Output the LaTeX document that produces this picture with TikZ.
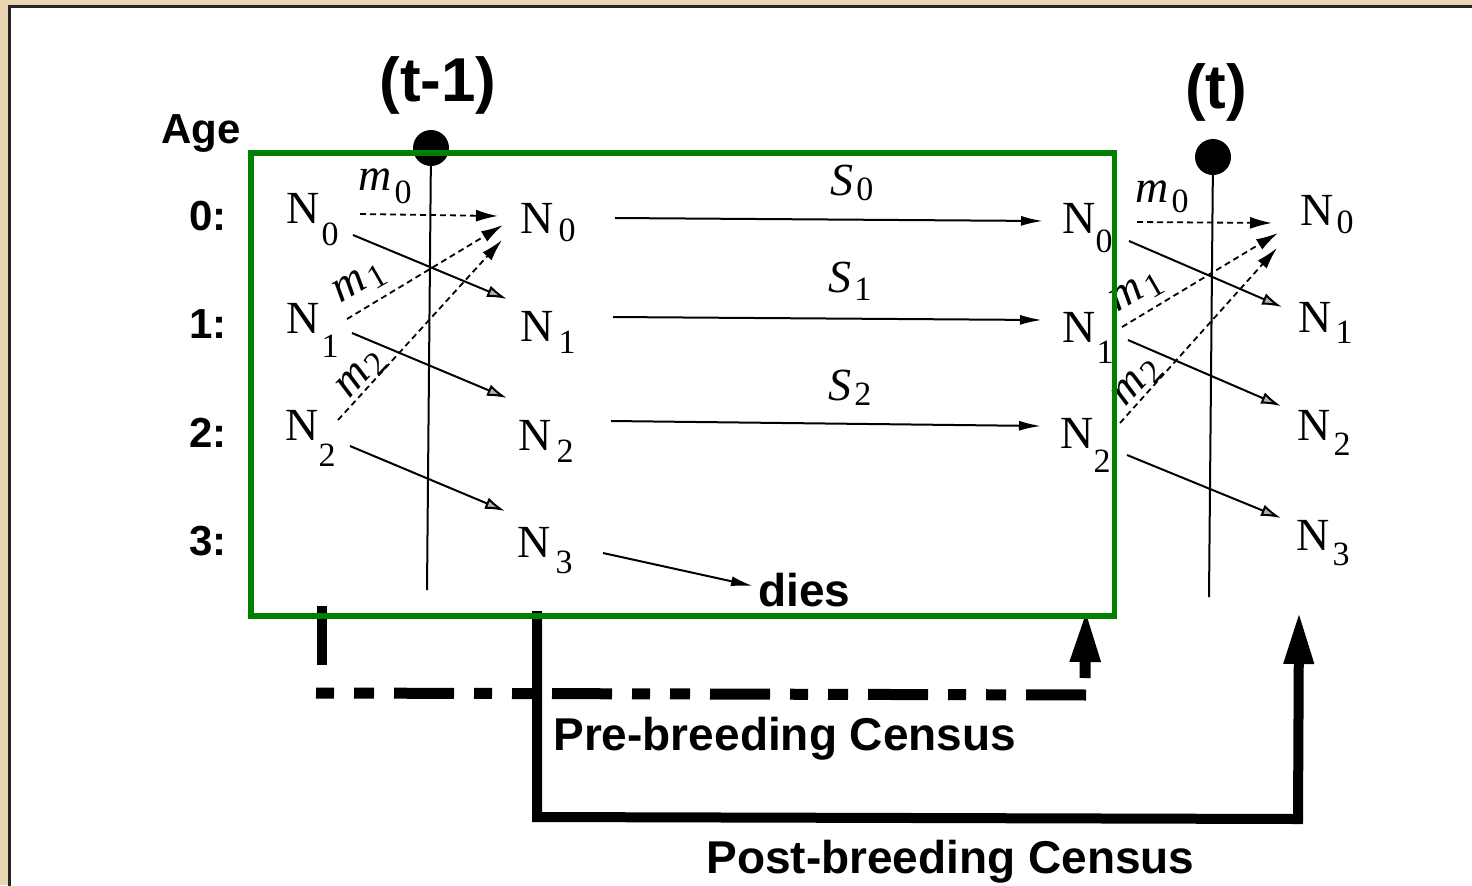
\documentclass[tikz,border=0pt]{standalone}
\usepackage{fontspec}
\setmainfont{Liberation Serif}
\newfontfamily\hvfont{Liberation Sans}
\usetikzlibrary{arrows.meta}

\definecolor{parch}{RGB}{232,214,176}
\definecolor{boxgreen}{RGB}{0,128,0}

% N with a lowered age index: #1 kern (pt), #2 drop (pt), #3 index
\newcommand{\popN}[3]{N\kern#1pt\raisebox{-#2pt}{\fontsize{17}{17}\selectfont #3}}
% italic rate symbol with lowered index: #1 letter, #2 drop (pt), #3 index
\newcommand{\rateSym}[3]{{\itshape #1}\kern1.5pt\raisebox{-#2pt}{\fontsize{17}{17}\selectfont #3}}

\begin{document}
\begin{tikzpicture}[x=0.5pt,y=-0.5pt,
  serif/.style={inner sep=0pt,font=\fontsize{23}{23}\selectfont},
  sanslab/.style={inner sep=0pt,font=\hvfont\bfseries\fontsize{23}{23}\selectfont},
  agelab/.style={inner sep=0pt,font=\hvfont\bfseries\fontsize{21}{21}\selectfont},
  timelab/.style={inner sep=0pt,font=\hvfont\bfseries\fontsize{31}{31}\selectfont},
  survive/.style={line width=1pt,-{Latex[length=11pt,width=5pt]}},
  fecund/.style={line width=0.9pt,dash pattern=on 3pt off 2pt,-{Latex[length=11pt,width=6pt]}},
  ageing/.style={line width=1pt,-{Latex[length=10pt,width=6pt,fill=gray!60]}},
  timeline/.style={line width=1pt},
  census/.style={line width=5pt,line join=miter},
  censustip/.style={-{Triangle[length=26pt,width=14pt]}}
]
\useasboundingbox (0,0) rectangle (1472,885);

% parchment surround and white panel
\fill[parch] (0,0) rectangle (1472,885);
\filldraw[fill=white,draw=black!85,line width=1.5pt] (9.5,6) rectangle (1490,900);

% time labels, census instants and time lines
\node[timelab] (tprev) at (438,85) {(t-1)};
\node[timelab] (tnow) at (1216,92) {(t)};
\fill (431,148) circle[radius=9pt];
\fill (1213,157) circle[radius=9pt];
\coordinate (lineAtop) at (431,148);
\coordinate (lineAbot) at (427,590);
\coordinate (lineBtop) at (1213,157);
\coordinate (lineBbot) at (1209,597);
\draw[timeline] (lineAtop) -- (lineAbot);
\draw[timeline] (lineBtop) -- (lineBbot);

% age axis
\node[agelab,anchor=base] (age) at (201,143) {Age};
\node[agelab,anchor=base east] (age0) at (227,230) {0:};
\node[agelab,anchor=base east] (age1) at (227,338) {1:};
\node[agelab,anchor=base east] (age2) at (227,447) {2:};
\node[agelab,anchor=base east] (age3) at (227,555) {3:};

% stage classes
\node[serif,anchor=base west] (a0) at (286,223) {\popN{1}{11}{0}};
\node[serif,anchor=base west] (a1) at (286,333) {\popN{1}{12}{1}};
\node[serif,anchor=base west] (a2) at (285,440) {\popN{0}{13}{2}};

\node[serif,anchor=base west] (b0) at (520,233) {\popN{2.5}{4}{0}};
\node[serif,anchor=base west] (b1) at (520,341) {\popN{2.5}{6}{1}};
\node[serif,anchor=base west] (b2) at (518,450) {\popN{2.5}{6}{2}};
\node[serif,anchor=base west] (b3) at (517,557) {\popN{2.5}{8}{3}};

\node[serif,anchor=base west] (c0) at (1062,233) {\popN{0}{9.5}{0}};
\node[serif,anchor=base west] (c1) at (1062,342) {\popN{0.5}{10.5}{1}};
\node[serif,anchor=base west] (c2) at (1060,448) {\popN{0}{12}{2}};

\node[serif,anchor=base west] (d0) at (1300,225) {\popN{1.5}{4}{0}};
\node[serif,anchor=base west] (d1) at (1298,332) {\popN{2}{5.5}{1}};
\node[serif,anchor=base west] (d2) at (1297,440) {\popN{1.5}{7.5}{2}};
\node[serif,anchor=base west] (d3) at (1296,550) {\popN{1.5}{7.5}{3}};

\node[sanslab,anchor=base west] (dies) at (758,606) {dies};

% rates
\node[serif,anchor=base west] (am0) at (358,190) {\rateSym{m}{6.5}{0}};
\node[serif,rotate=30] (am1) at (360,283) {\rateSym{m}{3}{1}};
\node[serif,rotate=47] (am2) at (362,375) {\rateSym{m}{3}{2}};
\node[serif,anchor=base west] (cm0) at (1135,202) {\rateSym{m}{5}{0}};
\node[serif,rotate=30] (cm1) at (1137,292) {\rateSym{m}{3}{1}};
\node[serif,rotate=47] (cm2) at (1138,383) {\rateSym{m}{3}{2}};

\node[serif,anchor=base west] (s0) at (830,195) {\rateSym{S}{2.5}{0}};
\node[serif,anchor=base west] (s1) at (828,292) {\rateSym{S}{4}{1}};
\node[serif,anchor=base west] (s2) at (828,400) {\rateSym{S}{2.5}{2}};

% connector ends
\coordinate (a0f) at (360,214);   \coordinate (b0f) at (498,216);
\coordinate (a1f) at (347,319);   \coordinate (b0g) at (503,225);
\coordinate (a2f) at (338,420);   \coordinate (b0h) at (502,240);
\coordinate (a0s) at (353,235);   \coordinate (b1s) at (507,299);
\coordinate (a1s) at (352,333);   \coordinate (b2s) at (507,398);
\coordinate (a2s) at (350,446);   \coordinate (b3s) at (505,511);

\coordinate (b0o) at (615,218);   \coordinate (c0i) at (1043,221);
\coordinate (b1o) at (613,317);   \coordinate (c1i) at (1042,320);
\coordinate (b2o) at (611,421);   \coordinate (c2i) at (1041,426);
\coordinate (b3o) at (603,553);   \coordinate (diesin) at (753,586);

\coordinate (c0f) at (1137,222);  \coordinate (d0f) at (1272,223);
\coordinate (c1f) at (1122,327);  \coordinate (d0g) at (1278,233);
\coordinate (c2f) at (1120,423);  \coordinate (d0h) at (1277,248);
\coordinate (c0s) at (1129,241);  \coordinate (d1s) at (1282,307);
\coordinate (c1s) at (1128,340);  \coordinate (d2s) at (1281,406);
\coordinate (c2s) at (1127,455);  \coordinate (d3s) at (1281,518);

% fecundity (dashed)
\draw[fecund] (a0f) -- (b0f);
\draw[fecund] (a1f) -- (b0g);
\draw[fecund] (a2f) -- (b0h);
\draw[fecund] (c0f) -- (d0f);
\draw[fecund] (c1f) -- (d0g);
\draw[fecund] (c2f) -- (d0h);

% ageing
\draw[ageing] (a0s) -- (b1s);
\draw[ageing] (a1s) -- (b2s);
\draw[ageing] (a2s) -- (b3s);
\draw[ageing] (c0s) -- (d1s);
\draw[ageing] (c1s) -- (d2s);
\draw[ageing] (c2s) -- (d3s);

% survival across the year
\draw[survive] (b0o) -- (c0i);
\draw[survive] (b1o) -- (c1i);
\draw[survive] (b2o) -- (c2i);
\draw[survive] (b3o) -- (diesin);

% census markers
\coordinate (preA) at (322,606);
\coordinate (preB) at (322,665);
\coordinate (preC) at (316,693);
\coordinate (preD) at (1090,695);
\coordinate (preE) at (1085,678);
\coordinate (preF) at (1086,610);
\draw[census,line cap=butt] (preA) -- (preB);
\draw[line width=5.5pt,dash pattern=on 9pt off 10pt on 10pt off 10pt on 30pt off 10pt] (preC) -- (preD);
\draw[line width=5.5pt,censustip] (preE) -- (preF);

\coordinate (postA) at (537,611);
\coordinate (postB) at (537,817);
\coordinate (postC) at (1298,819);
\coordinate (postD) at (1299,612);
\draw[census,censustip] (postA) -- (postB) -- (postC) -- (postD);

\node[sanslab,anchor=base west] (pre) at (553,750) {Pre-breeding Census};
\node[sanslab,anchor=base west] (post) at (706,873) {Post-breeding Census};

% one-year window
\draw[boxgreen,line width=2.7pt] (251,153) rectangle (1114.5,616);
\end{tikzpicture}
\end{document}
